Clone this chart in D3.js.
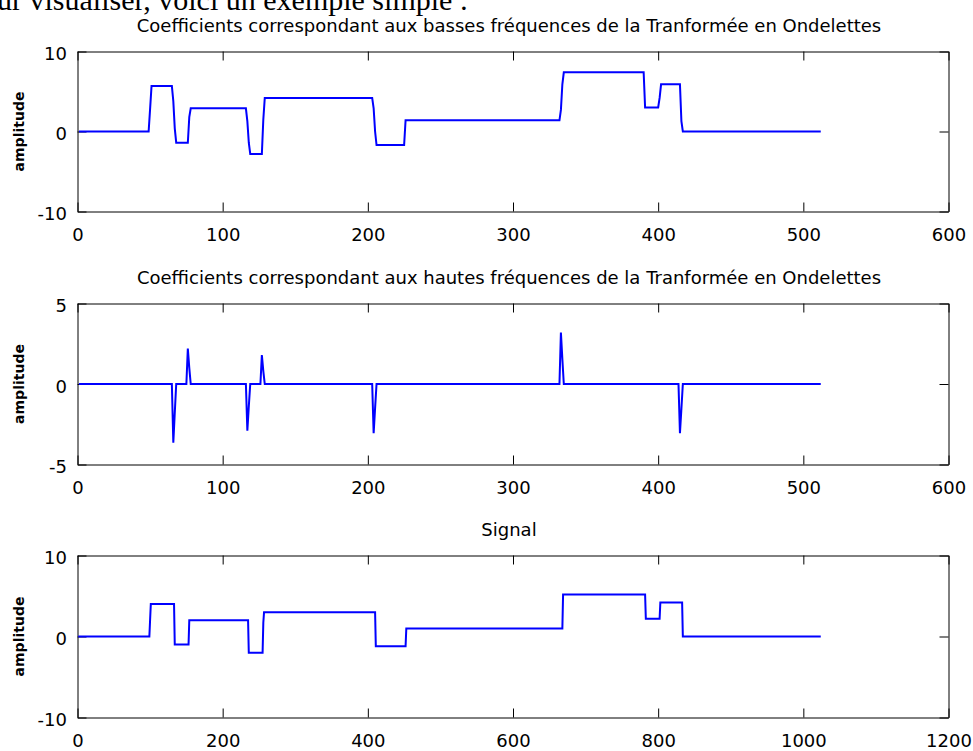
<!DOCTYPE html>
<html>
<head>
<meta charset="utf-8">
<script src="https://cdn.jsdelivr.net/npm/d3@7"></script>
<style>
  html, body { margin: 0; padding: 0; background: #fff; overflow: hidden; }
  svg { display: block; }
  .tick text { font-family: "DejaVu Sans", sans-serif; font-size: 18px; fill: #000; }
  .domain, .tick line { stroke: #000; stroke-width: 1; }
</style>
</head>
<body>
<svg id="chart" width="973" height="751"></svg>
<script>
// Piecewise-constant series, each entry is [firstSample, lastSample, value].
// Approximation (low-frequency) coefficients, 512 samples.
const lowFreqSegments = [
  [1, 49, 0], [50, 50, 2.8], [51, 65, 5.7], [66, 66, 3.8], [67, 67, 0.4],
  [68, 76, -1.4], [77, 77, 1.8], [78, 116, 2.9], [117, 117, 1.3], [118, 118, -1.4],
  [119, 127, -2.8], [128, 128, 1.5], [129, 203, 4.2], [204, 204, 2.9], [205, 205, 0],
  [206, 225, -1.7], [226, 332, 1.4], [333, 333, 2.7], [334, 334, 5.9], [335, 390, 7.4],
  [391, 400, 3.0], [401, 401, 4.2], [402, 415, 5.9], [416, 416, 1.3], [417, 512, 0]
];

// Detail (high-frequency) coefficients, 512 samples.
const highFreqSegments = [
  [1, 65, 0], [66, 66, -3.65], [67, 67, -1.8], [68, 75, 0],
  [76, 76, 2.2], [77, 77, 1.0], [78, 116, 0],
  [117, 117, -2.9], [118, 118, -1.4], [119, 126, 0],
  [127, 127, 1.8], [128, 128, 0.8], [129, 203, 0],
  [204, 204, -3.05], [205, 205, -1.5], [206, 332, 0],
  [333, 333, 3.2], [334, 334, 1.55], [335, 414, 0],
  [415, 415, -3.05], [416, 416, -1.55], [417, 512, 0]
];

// Original signal, 1024 samples.
const signalSegments = [
  [1, 99, 0], [100, 100, 2], [101, 133, 4], [134, 153, -1], [154, 235, 2],
  [236, 255, -2], [256, 256, 1.7], [257, 410, 3], [411, 452, -1.2], [453, 668, 1],
  [669, 782, 5.2], [783, 802, 2.2], [803, 833, 4.2], [834, 1024, 0]
];

// Axis ticks
const coefXTicks = [0, 100, 200, 300, 400, 500, 600];
const signalXTicks = [0, 200, 400, 600, 800, 1000, 1200];
const lowFreqYTicks = [-10, 0, 10];
const highFreqYTicks = [-5, 0, 5];
const signalYTicks = [-10, 0, 10];

// Titles
const titles = [
  "Coefficients correspondant aux basses fréquences de la Tranformée en Ondelettes",
  "Coefficients correspondant aux hautes fréquences de la Tranformée en Ondelettes",
  "Signal"
];
const yLabel = "amplitude";
const introText = "ur visualiser, voici un exemple simple :";

const svg = d3.select("#chart");

// Paragraph line running along the top edge
svg.append("text")
  .attr("x", -3).attr("y", 10)
  .attr("font-family", "'Liberation Serif', 'Times New Roman', serif")
  .attr("font-size", 30)
  .attr("fill", "#000")
  .text(introText);

const left = 77.5, right = 948.5;

const panels = [
  { segs: lowFreqSegments, xTicks: coefXTicks, yTicks: lowFreqYTicks, top: 51.5, bottom: 211.5, title: titles[0] },
  { segs: highFreqSegments, xTicks: coefXTicks, yTicks: highFreqYTicks, top: 303.5, bottom: 464.5, title: titles[1] },
  { segs: signalSegments, xTicks: signalXTicks, yTicks: signalYTicks, top: 555.5, bottom: 717.5, title: titles[2] }
];

const tickLen = 9;
const fmt = d => String(d);

panels.forEach(p => {
  const x = d3.scaleLinear()
    .domain([p.xTicks[0], p.xTicks[p.xTicks.length - 1]])
    .range([left, right]);
  const y = d3.scaleLinear()
    .domain([p.yTicks[0], p.yTicks[p.yTicks.length - 1]])
    .range([p.bottom, p.top]);

  const g = svg.append("g");

  // Box with inward ticks on all four sides
  g.append("g").attr("transform", `translate(0,${p.bottom})`)
    .call(d3.axisBottom(x).tickValues(p.xTicks).tickSizeInner(-tickLen).tickSizeOuter(0).tickPadding(17).tickFormat(fmt));
  g.append("g").attr("transform", `translate(0,${p.top})`)
    .call(d3.axisTop(x).tickValues(p.xTicks).tickSizeInner(-tickLen).tickSizeOuter(0).tickFormat(""));
  const yl = g.append("g").attr("transform", `translate(${left},0)`)
    .call(d3.axisLeft(y).tickValues(p.yTicks).tickSizeInner(-tickLen).tickSizeOuter(0).tickPadding(10.5).tickFormat(fmt));
  yl.selectAll(".tick text").attr("dy", "0.47em");
  g.append("g").attr("transform", `translate(${right},0)`)
    .call(d3.axisRight(y).tickValues(p.yTicks).tickSizeInner(-tickLen).tickSizeOuter(0).tickFormat(""));

  // Data line: each segment contributes its first and last sample
  const pts = [];
  p.segs.forEach(([s, e, v]) => {
    pts.push([s, v]);
    if (e > s) pts.push([e, v]);
  });
  const line = d3.line().x(d => x(d[0])).y(d => y(d[1]));
  g.append("path")
    .datum(pts)
    .attr("fill", "none")
    .attr("stroke", "#0000ff")
    .attr("stroke-width", 2)
    .attr("stroke-linejoin", "miter")
    .attr("d", line);

  // Title
  g.append("text")
    .attr("x", (left + right) / 2 - 4)
    .attr("y", p.top - 19.5)
    .attr("text-anchor", "middle")
    .attr("font-family", "'DejaVu Sans', sans-serif")
    .attr("font-size", 18)
    .attr("fill", "#000")
    .text(p.title);

  // Y label
  g.append("text")
    .attr("transform", `translate(24,${(p.top + p.bottom) / 2}) rotate(-90)`)
    .attr("text-anchor", "middle")
    .attr("font-family", "'DejaVu Sans', sans-serif")
    .attr("font-size", 14)
    .attr("font-weight", "bold")
    .attr("fill", "#000")
    .text(yLabel);
});
</script>
</body>
</html>
